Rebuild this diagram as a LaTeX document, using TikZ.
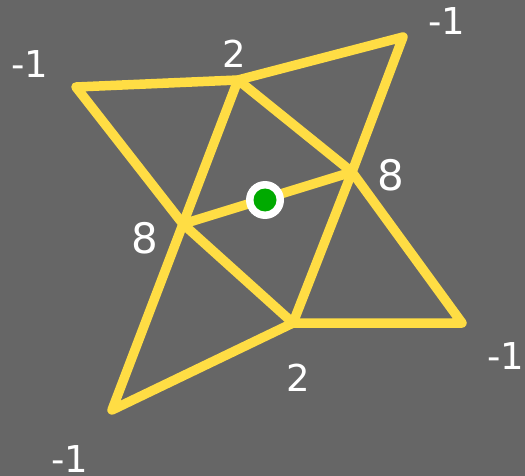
\documentclass[tikz,border=0pt]{standalone}
\usepackage{fontspec}
\setmainfont{DejaVu Sans}
\definecolor{bg}{HTML}{666666}
\definecolor{edgey}{HTML}{FFDD44}
\definecolor{dotg}{HTML}{00AA00}
\begin{document}
\begin{tikzpicture}[x=1pt,y=-1pt,
  edge/.style={draw=edgey,line width=9.5pt,line cap=round,line join=round},
  lab/.style={text=white,inner sep=0pt,font=\fontsize{37}{37}\selectfont},
  labbig/.style={text=white,inner sep=0pt,font=\fontsize{42}{42}\selectfont}]
\fill[bg] (0,0) rectangle (525,476);
\useasboundingbox (0,0) rectangle (525,476);
\coordinate (A) at (76,87);
\coordinate (B) at (238,80);
\coordinate (C) at (403,37);
\coordinate (D) at (352,172);
\coordinate (E) at (462,323);
\coordinate (F) at (293,323);
\coordinate (G) at (112,410);
\coordinate (H) at (183,224);
\draw[edge] (A) -- (B) -- (C) -- (D) -- (E) -- (F) -- (G) -- (H) -- (A);
\draw[edge] (B) -- (H) -- (F) -- (D) -- (B);
\draw[edge] (H) -- (D);
\node[circle,fill=white,minimum size=38pt,inner sep=0pt] (ring) at (265,200) {};
\node[circle,fill=dotg,minimum size=23pt,inner sep=0pt] (dot) at (ring) {};
\node[lab] (lA) at (30,64) {-1};
\node[lab] (lB) at (234,54) {2};
\node[lab] (lC) at (447,21) {-1};
\node[labbig] (lD) at (391,175) {8};
\node[lab] (lE) at (506,356) {-1};
\node[lab] (lF) at (298,378) {2};
\node[lab] (lG) at (70,459) {-1};
\node[labbig] (lH) at (145,238) {8};
\end{tikzpicture}
\end{document}
